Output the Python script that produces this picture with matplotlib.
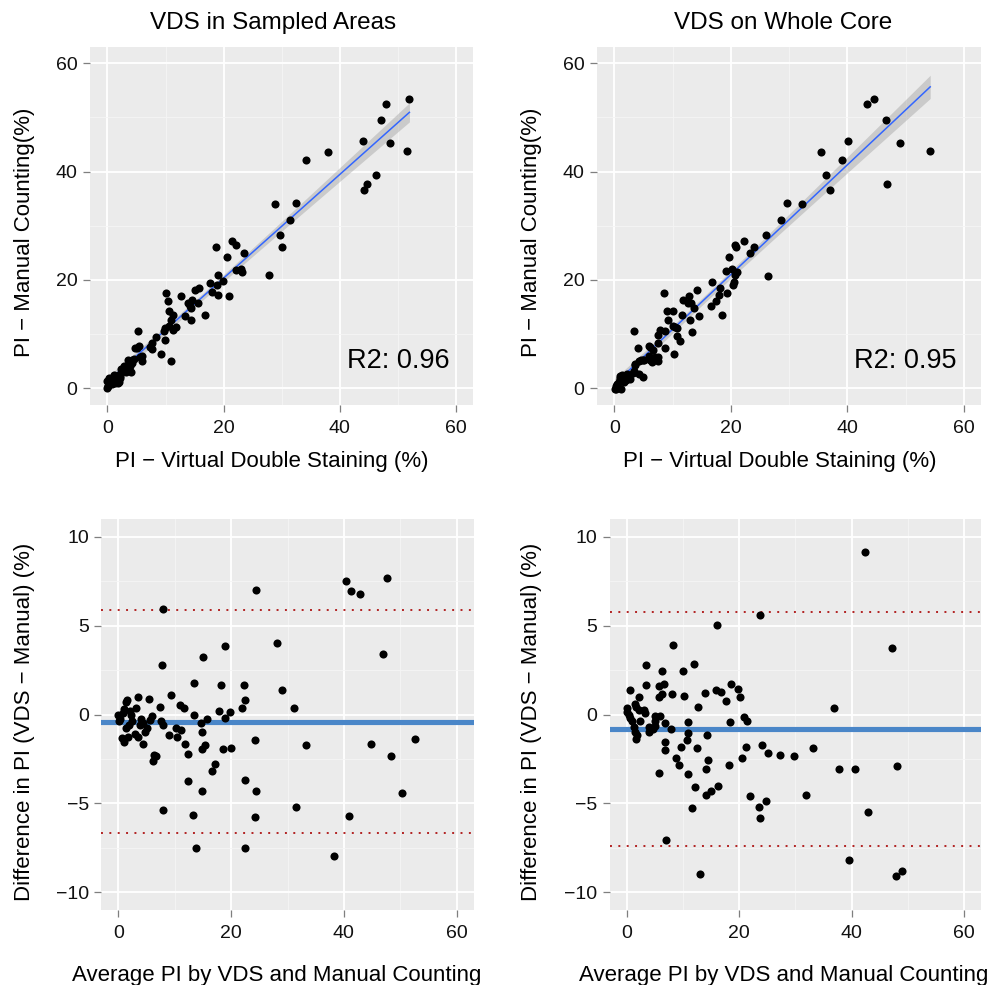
import numpy as np
import matplotlib
matplotlib.use("Agg")
import matplotlib.pyplot as plt

plt.rcParams['font.family'] = ['Liberation Sans', 'DejaVu Sans']

# ---------------- data (Bland-Altman coordinates) ----------------
# VDS in sampled areas: average of (VDS, manual) and difference (VDS - manual)
sampled_mean = [7.92, 24.35, 40.43, 41.25, 42.79, 47.70, 46.99, 28.13, 19.0, 15.1,
                7.8, 13.45, 18.14, 22.34, 29.08, 22.52, 21.93, 31.21, 9.40, 5.44,
                3.50, 10.99, 11.58, 7.39, 17.91, 19.80, 13.42, 15.66, 18.91, 14.66,
                14.78, 24.29, 33.27, 44.80, 52.66, 48.35, 50.24, 18.56, 20.04, 15.43,
                14.83, 11.82, 12.41, 17.20, 16.61, 12.41, 14.83, 22.40, 24.35, 31.50,
                24.29, 40.84, 7.86, 13.30, 13.83, 22.40, 38.24, 6.09, 6.3, 6.7,
                4.43, 8.98, 10.46, 10.17, 11.11, 8.0, 7.50,
                1.6, 1.4, 3.1, 1.07, 0.0, 0.3, 2.2, 2.4, 1.9, 1.3,
                4.0, 4.4, 5.9, 5.7, 5.0, 4.7, 2.96, 3.55, 1.78, 0.6,
                1.07, 0.2, 2.0, 3.8, 0.8]
sampled_diff = [5.91, 6.98, 7.52, 6.92, 6.79, 7.65, 3.41, 4.01, 3.85, 3.23,
                2.79, 1.75, 1.67, 1.65, 1.39, 0.81, 0.34, 0.38, 1.09, 0.86,
                0.98, 0.51, 0.39, 0.43, 0.21, 0.13, -0.04, -0.24, -0.17, -0.49,
                -0.96, -1.43, -1.74, -1.65, -1.35, -2.36, -4.43, -1.93, -1.88, -1.74,
                -1.95, -1.65, -2.21, -2.81, -3.19, -3.73, -4.33, -3.71, -4.28, -5.19,
                -5.78, -5.68, -5.36, -5.66, -7.48, -7.48, -7.97, -2.61, -2.27, -2.36,
                -1.67, -1.13, -1.24, -0.77, -0.88, -0.58, -0.36,
                0.8, 0.7, 0.36, 0.3, -0.02, -0.24, 0.0, -0.34, -0.58, -0.77,
                -0.24, -0.45, -0.06, -0.30, -0.77, -1.01, -1.11, -1.24, -1.24, -1.33,
                -1.54, -0.35, 0.2, -0.6, 0.1]

# VDS on whole core
whole_mean = [42.31, 23.61, 16.04, 47.16, 8.22, 11.89, 3.49, 6.21, 9.97, 3.43,
              5.70, 6.60, 0.53, 8.05, 6.33, 5.68, 10.24, 13.99, 15.83, 16.72,
              17.60, 18.52, 19.70, 20.06, 12.75, 2.13, 36.86, 20.77, 21.30, 18.40,
              10.89, 6.89, 7.87, 14.26, 10.86, 10.80, 6.89, 6.86, 9.62, 12.49,
              21.12, 24.08, 25.03, 27.16, 29.82, 33.14, 20.47, 14.44, 8.70, 9.29,
              18.22, 14.14, 5.74, 10.89, 37.81, 40.65, 48.05, 12.13, 16.15, 14.91,
              14.02, 21.95, 31.89, 24.73, 23.55, 11.66, 23.61, 42.90, 6.98, 13.08,
              39.59, 47.93, 48.93,
              0.06, 0.0, 0.36, 1.42, 1.72, 2.25, 3.0, 3.3, 0.65, 0.95,
              2.43, 5.1, 5.98, 5.1, 4.97, 3.9, 4.0, 1.24, 1.42, 1.83,
              1.66, 4.6, 49.05]
whole_diff = [9.12, 5.60, 5.02, 3.73, 3.90, 2.83, 2.79, 2.47, 2.44, 1.65,
              1.58, 1.70, 1.40, 1.16, 1.17, 0.97, 1.05, 1.23, 1.38, 1.29,
              0.74, 1.70, 1.42, 1.01, 0.42, 0.99, 0.34, -0.15, -0.34, -0.41,
              -0.40, -0.45, -0.82, -1.18, -1.04, -1.45, -1.52, -1.97, -1.83, -1.91,
              -1.84, -1.72, -2.15, -2.30, -2.36, -1.89, -2.47, -2.57, -2.45, -2.83,
              -2.85, -3.05, -3.30, -3.33, -3.09, -3.09, -2.92, -4.10, -4.03, -4.31,
              -4.53, -4.59, -4.51, -4.89, -5.19, -5.28, -5.81, -5.49, -7.04, -8.99,
              -8.18, -9.08, -8.80,
              0.36, 0.13, -0.02, 0.6, 0.41, 0.26, 0.26, 0.11, -0.21, -0.39,
              -0.34, -0.11, -0.11, -0.39, -0.64, -0.68, -1.01, -0.68, -1.01, -1.14,
              -1.39, -0.8, 10.3]

sampled_r2_label = "R2: 0.96"
whole_r2_label = "R2: 0.95"

# bias and limits of agreement
sampled_bias, sampled_lower, sampled_upper = -0.43, -6.69, 5.87
whole_bias, whole_lower, whole_upper = -0.82, -7.40, 5.78

titles = ["VDS in Sampled Areas", "VDS on Whole Core"]
x_ticks = [0, 20, 40, 60]
top_y_ticks = [0, 20, 40, 60]
ba_y_ticks = [-10, -5, 0, 5, 10]

# ---------------- figure ----------------
W, H = 1003, 985
fig = plt.figure(figsize=(W / 100, H / 100), dpi=100)


def rect(l, t, r, b):
    return [l / W, 1 - b / H, (r - l) / W, (b - t) / H]


ax1 = fig.add_axes(rect(90.0, 47.05, 473.4, 404.55))
ax2 = fig.add_axes(rect(596.8, 47.05, 981.5, 404.55))
ax3 = fig.add_axes(rect(101.4, 518.9, 473.6, 910.1))
ax4 = fig.add_axes(rect(609.8, 518.9, 981.2, 910.1))

BG = "#EBEBEB"


def style(ax, ylim, yticks, yminor):
    ax.set_facecolor(BG)
    ax.set_xlim(-3, 63)
    ax.set_ylim(*ylim)
    ax.set_xticks(x_ticks)
    ax.set_yticks(yticks)
    ax.set_xticks([10, 30, 50], minor=True)
    ax.set_yticks(yminor, minor=True)
    ax.grid(which="major", color="white", lw=1.3)
    ax.grid(which="minor", color="#F5F5F5", lw=0.6)
    ax.set_axisbelow(True)
    for s in ax.spines.values():
        s.set_visible(False)
    ax.tick_params(which="major", length=5, width=0.9, color="#7F7F7F",
                   labelsize=14, labelcolor="#111111")
    ax.tick_params(axis="x", which="major", pad=6)
    ax.tick_params(axis="y", which="major", pad=4)
    ax.tick_params(which="minor", length=0)


def px_to_axes_y(ax, ypx):
    bb = ax.get_position()
    return ((1 - ypx / H) - bb.y0) / bb.height


def px_to_axes_x(ax, xpx):
    bb = ax.get_position()
    return (xpx / W - bb.x0) / bb.width


def scatter_fit(ax, x, y, r2_label):
    x = np.asarray(x)
    y = np.asarray(y)
    n = len(x)
    b, a = np.polyfit(x, y, 1)
    xs = np.linspace(x.min(), x.max(), 80)
    fit = a + b * xs
    resid = y - (a + b * x)
    s = np.sqrt(np.sum(resid ** 2) / (n - 2))
    sxx = np.sum((x - x.mean()) ** 2)
    se = s * np.sqrt(1 / n + (xs - x.mean()) ** 2 / sxx)
    t = 1.984
    ax.fill_between(xs, fit - t * se, fit + t * se, color="#999999", alpha=0.4, lw=0, zorder=2)
    ax.plot(xs, fit, color="#3366FF", lw=1.1, zorder=2.5)
    ax.scatter(x, y, s=34, color="black", linewidths=0, zorder=3)
    ax.text(50, 5, r2_label, fontsize=19.5, ha="center", va="center", color="black", zorder=4)


def bland(ax, mean, diff, bias, lower, upper):
    mean = np.asarray(mean)
    diff = np.asarray(diff)
    keep = np.abs(diff) <= 10  # values outside the y-limits are dropped
    ax.axhline(bias, color="#4A86C8", lw=3.7, zorder=2)
    for v in (lower, upper):
        ax.axhline(v, color="#B22222", lw=1.4, ls=(0, (1.0, 3.3)), zorder=2)
    ax.scatter(mean[keep], diff[keep], s=34, color="black", linewidths=0, zorder=3)


s_mean = np.asarray(sampled_mean)
s_diff = np.asarray(sampled_diff)
w_mean = np.asarray(whole_mean)
w_diff = np.asarray(whole_diff)

# back to the scatter coordinates: VDS and manual
s_vds, s_man = s_mean + s_diff / 2, s_mean - s_diff / 2
w_vds, w_man = w_mean + w_diff / 2, w_mean - w_diff / 2

for ax in (ax1, ax2):
    style(ax, (-3, 63), top_y_ticks, [10, 30, 50])
for ax in (ax3, ax4):
    style(ax, (-11, 11), ba_y_ticks, [-7.5, -2.5, 2.5, 7.5])

scatter_fit(ax1, s_vds, s_man, sampled_r2_label)
scatter_fit(ax2, w_vds, w_man, whole_r2_label)
bland(ax3, s_mean, s_diff, sampled_bias, sampled_lower, sampled_upper)
bland(ax4, w_mean, w_diff, whole_bias, whole_lower, whole_upper)

LABEL_FS = 16
for ax, title, tx in ((ax1, titles[0], 273.5), (ax2, titles[1], 783.5)):
    ax.set_title(title, fontsize=17.5, pad=0, va="center",
                 x=px_to_axes_x(ax, tx), y=px_to_axes_y(ax, 23))

for ax, xlx, ylx in ((ax1, 271.5, 25), (ax2, 780, 532)):
    ax.set_xlabel("PI \u2212 Virtual Double Staining (%)", fontsize=LABEL_FS, va="center")
    ax.xaxis.set_label_coords(px_to_axes_x(ax, xlx), px_to_axes_y(ax, 462))
    ax.set_ylabel("PI \u2212 Manual Counting(%)", fontsize=LABEL_FS, va="center", ha="center")
    ax.yaxis.set_label_coords(px_to_axes_x(ax, ylx), px_to_axes_y(ax, 232))

for ax, xlx, ylx in ((ax3, 277, 25), (ax4, 784, 532)):
    ax.set_xlabel("Average PI by VDS and Manual Counting", fontsize=LABEL_FS, va="center")
    ax.xaxis.set_label_coords(px_to_axes_x(ax, xlx), px_to_axes_y(ax, 975))
    ax.set_ylabel("Difference in PI (VDS \u2212 Manual) (%)", fontsize=LABEL_FS, va="center", ha="center")
    ax.yaxis.set_label_coords(px_to_axes_x(ax, ylx), px_to_axes_y(ax, 722))

fig.savefig("out.png", dpi=100, facecolor="white")
